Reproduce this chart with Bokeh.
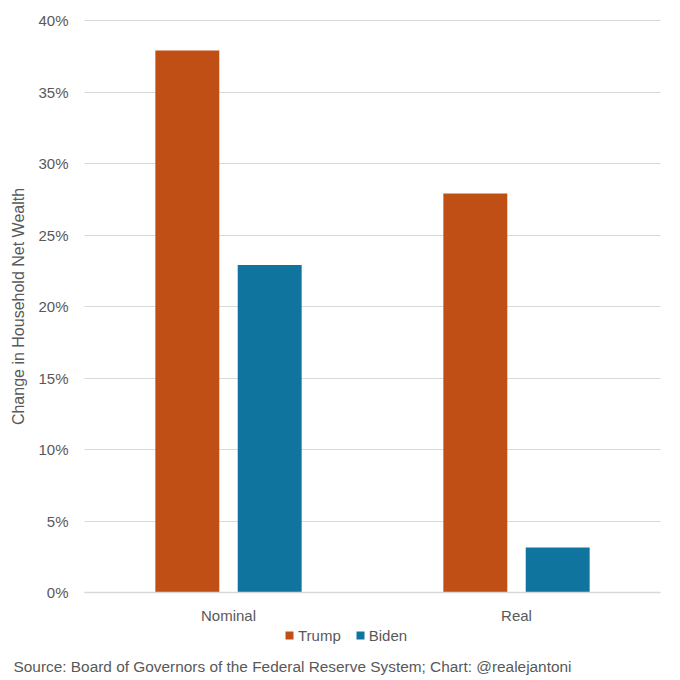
from bokeh.plotting import figure
from bokeh.models import (Range1d, FixedTicker, NumeralTickFormatter,
                          Legend, LegendItem, Label, ColumnDataSource)
from bokeh.transform import dodge
from bokeh.embed import file_html
from bokeh.resources import INLINE

categories = ["Nominal", "Real"]
trump = [0.379, 0.279]
biden = [0.229, 0.0315]
series = ["Trump", "Biden"]
y_ticks = [0.0, 0.05, 0.10, 0.15, 0.20, 0.25, 0.30, 0.35, 0.40]
source_note = "Source: Board of Governors of the Federal Reserve System; Chart: @realejantoni"
y_title = "Change in Household Net Wealth"

TRUMP_COLOR = "#C04F15"
BIDEN_COLOR = "#0F759F"
TEXT = "#595959"
GRID = "#D9D9D9"
FONT = "Liberation Sans"

# layout (pixels): plot area 84..660 x 20..592 inside a 680x680 canvas
W, H = 680, 680
PL, PR, PT, PB = 84, 660, 20, 592
YMAX = 0.40
n = len(categories)
xs = [i + 0.5 for i in range(n)]
px_per_x = (PR - PL) / n
px_per_y = (PB - PT) / YMAX

src = ColumnDataSource(dict(x=xs, cat=categories, trump=trump, biden=biden))

p = figure(width=W, height=H, min_border=0,
           x_range=Range1d(-PL / px_per_x, n + (W - PR) / px_per_x),
           y_range=Range1d(-(H - PB) / px_per_y, YMAX + PT / px_per_y),
           output_backend="svg", toolbar_location=None)
p.outline_line_color = None
p.background_fill_color = "white"
p.border_fill_color = "white"

r1 = p.vbar(x=dodge("x", -0.143), top="trump", width=0.222,
            source=src, fill_color=TRUMP_COLOR, line_color=None)
r2 = p.vbar(x=dodge("x", 0.143), top="biden", width=0.222,
            source=src, fill_color=BIDEN_COLOR, line_color=None)

p.xgrid.grid_line_color = None
p.ygrid.grid_line_color = GRID
p.ygrid.grid_line_width = 1
p.ygrid.ticker = FixedTicker(ticks=y_ticks)
p.ygrid.cross_bounds = (0, n)

yax = p.yaxis[0]
yax.fixed_location = 0
yax.bounds = (0, YMAX)
yax.ticker = FixedTicker(ticks=y_ticks)
yax.formatter = NumeralTickFormatter(format="0%")
yax.axis_line_color = None
yax.major_tick_line_color = None
yax.minor_tick_line_color = None
yax.major_tick_out = 0
yax.minor_tick_out = 0
yax.major_label_text_font = FONT
yax.major_label_text_font_size = "15px"
yax.major_label_text_color = TEXT
yax.major_label_standoff = 16
yax.axis_label = y_title
yax.axis_label_text_font = FONT
yax.axis_label_text_font_size = "16px"
yax.axis_label_text_font_style = "normal"
yax.axis_label_text_color = TEXT
yax.axis_label_standoff = 8

xax = p.xaxis[0]
xax.fixed_location = 0
xax.bounds = (0, n)
xax.ticker = FixedTicker(ticks=xs)
xax.major_label_overrides = {x: c for x, c in zip(xs, categories)}
xax.axis_line_color = GRID
xax.axis_line_width = 1.5
xax.major_tick_line_color = None
xax.minor_tick_line_color = None
xax.major_tick_out = 0
xax.minor_tick_out = 0
xax.major_label_text_font = FONT
xax.major_label_text_font_size = "15px"
xax.major_label_text_color = TEXT
xax.major_label_standoff = 14

legend = Legend(items=[LegendItem(label=series[0], renderers=[r1]),
                       LegendItem(label=series[1], renderers=[r2])],
                orientation="horizontal", location=(284, 35),
                glyph_width=10, glyph_height=10, label_standoff=4, spacing=14,
                label_height=20,
                label_text_font=FONT, label_text_font_size="15px", label_text_color=TEXT,
                border_line_color=None, background_fill_alpha=0, padding=0, margin=0)
p.add_layout(legend, "center")

note = Label(text=source_note, x=13, y=14, x_units="screen", y_units="screen",
             text_baseline="middle", text_align="left", text_font=FONT,
             text_font_size="15.4px", text_color=TEXT)
p.add_layout(note)

open("out.html", "w").write(file_html(p, INLINE))
